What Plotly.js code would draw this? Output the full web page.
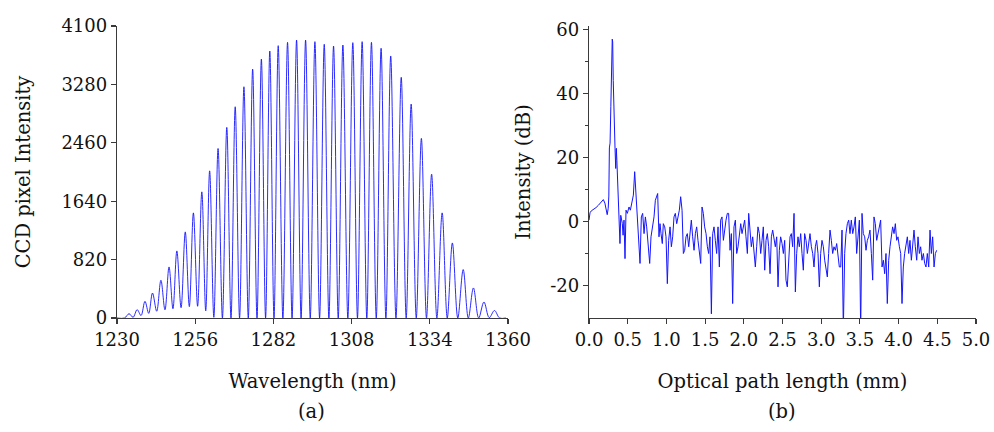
<!DOCTYPE html>
<html>
<head>
<meta charset="utf-8">
<script src="https://cdn.plot.ly/plotly-3.0.1.min.js"></script>
<style>html,body{margin:0;padding:0;background:#fff;}#chart{width:994px;height:432px;}</style>
</head>
<body>
<div id="chart"></div>
<script>
// Panel (a): fringe spectrum, peak/trough points
const wavelengthNm = [1230, 1232.5, 1234.0, 1235.35, 1236.7, 1238.0, 1239.3, 1240.55, 1241.8, 1243.2, 1244.6, 1245.95, 1247.3, 1248.6, 1249.9, 1251.3, 1252.7, 1254.05, 1255.4, 1256.8, 1258.2, 1259.5, 1260.8, 1262.2, 1263.6, 1265.05, 1266.5, 1267.9, 1269.3, 1270.75, 1272.2, 1273.65, 1275.1, 1276.55, 1278.0, 1279.4, 1280.8, 1282.2, 1283.6, 1285.15, 1286.7, 1288.2, 1289.7, 1291.2, 1292.7, 1294.25, 1295.8, 1297.35, 1298.9, 1300.45, 1302.0, 1303.55, 1305.1, 1306.75, 1308.4, 1309.95, 1311.5, 1313.05, 1314.6, 1316.2, 1317.8, 1319.4, 1321.0, 1322.75, 1324.5, 1326.15, 1327.8, 1329.5, 1331.2, 1332.9, 1334.6, 1336.35, 1338.1, 1339.8, 1341.5, 1343.3, 1345.1, 1346.8, 1348.5, 1350.25, 1352.0, 1353.75, 1355.5, 1357.2, 1359.3];
const ccdIntensity = [0, 0, 60, 10, 117, 35, 234, 65, 351, 95, 530, 115, 717, 130, 942, 145, 1209, 160, 1476, 165, 1771, 100, 2066, 10, 2380, 0, 2676, 0, 2966, 0, 3247, 0, 3495, 0, 3636, 0, 3749, 0, 3824, 0, 3870, 0, 3903, 0, 3903, 0, 3880, 0, 3843, 0, 3819, 0, 3833, 0, 3866, 0, 3880, 0, 3870, 0, 3787, 0, 3679, 0, 3379, 0, 3004, 0, 2522, 0, 2020, 0, 1476, 0, 1054, 0, 680, 0, 422, 0, 225, 5, 105, 0, 0];
const wavelengthTicks = [1230, 1256, 1282, 1308, 1334, 1360];
const ccdTicks = [0, 820, 1640, 2460, 3280, 4100];

// Panel (b): depth profile
const pathMm = [0.000, 0.013, 0.030, 0.060, 0.090, 0.120, 0.150, 0.185, 0.205, 0.222, 0.235, 0.248, 0.256, 0.263, 0.272, 0.282, 0.292, 0.300, 0.306, 0.313, 0.320, 0.328, 0.336, 0.345, 0.353, 0.360, 0.366, 0.379, 0.392, 0.400, 0.410, 0.420, 0.430, 0.440, 0.452, 0.465, 0.478, 0.495, 0.517, 0.534, 0.556, 0.573, 0.590, 0.607, 0.624, 0.642, 0.659, 0.676, 0.693, 0.711, 0.728, 0.745, 0.762, 0.784, 0.801, 0.818, 0.840, 0.857, 0.874, 0.887, 0.904, 0.917, 0.930, 0.947, 0.960, 0.978, 0.995,
1.012, 1.029, 1.047, 1.064, 1.081, 1.098, 1.115, 1.133, 1.150, 1.167, 1.184, 1.202, 1.219, 1.236, 1.253, 1.270, 1.288, 1.305, 1.322, 1.339, 1.357, 1.374, 1.391, 1.408, 1.425, 1.443, 1.460, 1.477, 1.494, 1.512, 1.529, 1.546, 1.563, 1.581, 1.598, 1.615, 1.632, 1.649, 1.667, 1.684, 1.701, 1.718, 1.736, 1.753, 1.770, 1.787, 1.804, 1.822, 1.839, 1.856, 1.873, 1.891, 1.908, 1.925, 1.942, 1.960, 1.977, 1.994,
2.011, 2.028, 2.046, 2.063, 2.080, 2.097, 2.115, 2.132, 2.149, 2.166, 2.183, 2.201, 2.218, 2.235, 2.252, 2.270, 2.287, 2.304, 2.321, 2.339, 2.356, 2.373, 2.390, 2.407, 2.425, 2.442, 2.459, 2.476, 2.494, 2.511, 2.528, 2.545, 2.562, 2.580, 2.597, 2.614, 2.631, 2.649, 2.666, 2.683, 2.700, 2.717, 2.735, 2.752, 2.769, 2.786, 2.804, 2.821, 2.838, 2.855, 2.873, 2.890, 2.907, 2.924, 2.941, 2.959, 2.976, 2.993,
3.010, 3.028, 3.045, 3.062, 3.079, 3.096, 3.114, 3.131, 3.148, 3.165, 3.183, 3.200, 3.217, 3.234, 3.252, 3.269, 3.286, 3.303, 3.320, 3.338, 3.355, 3.372, 3.389, 3.407, 3.424, 3.441, 3.458, 3.475, 3.493, 3.510, 3.527, 3.544, 3.562, 3.579, 3.596, 3.613, 3.630, 3.648, 3.665, 3.682, 3.699, 3.717, 3.734, 3.751, 3.768, 3.786, 3.803, 3.820, 3.837, 3.854, 3.872, 3.889, 3.906, 3.923, 3.941, 3.958, 3.975, 3.992,
4.010, 4.027, 4.044, 4.061, 4.078, 4.096, 4.113, 4.130, 4.147, 4.165, 4.182, 4.199, 4.216, 4.234, 4.251, 4.268, 4.285, 4.302, 4.320, 4.337, 4.354, 4.371, 4.389, 4.406, 4.423, 4.440, 4.458, 4.475, 4.492];
const intensityDb = [0.5, 2.8, 3.4, 3.8, 4.4, 5.1, 5.9, 6.9, 5.8, 3.8, 2.2, 4.2, 8.0, 23.0, 24.5, 36.0, 47.0, 56.9, 56.0, 44.0, 35.3, 25.0, 22.9, 16.6, 22.9, 19.0, 15.6, 9.3, 1.0, -6.8, 2.0, 1.0, -0.5, -4.2, 0.5, -11.5, 3.6, 2.6, 4.6, 3.6, 6.2, 8.3, 15.6, 7.8, 0.5, -4.7, -13.0, 1.5, 2.6, -3.7, 1.5, -1.6, -5.8, -13.0, -4.7, -1.6, 1.5, 6.7, 7.8, 8.8, -4.7, -0.6, -3.7, -6.8, -0.6, -1.6, -4.7,
-19.3, -5.8, -1.6, -7.8, -4.7, 1.5, 2.6, -0.6, 1.5, 3.6, 7.8, 3.6, -9.9, -8.9, -4.7, -3.7, -7.8, -2.6, 0.5, -4.7, -8.9, -3.7, -1.6, -5.8, -9.9, -13.0, 4.6, 2.6, -1.6, -3.7, -7.8, -9.9, -4.7, -28.7, -3.7, -1.6, -5.8, -9.9, -1.6, -14.1, 0.5, 1.5, -5.8, -1.6, 0.5, 2.6, 2.6, -8.9, -3.7, -25.5, -1.6, 0.5, -9.9, -7.8, -4.7, -0.6, -3.7, -1.6,
0.5, -4.7, -9.9, 2.6, -1.6, -7.8, -4.7, -9.9, -14.1, -7.8, -1.6, -3.7, -9.9, -5.8, -1.6, -15.1, -5.8, -3.7, -7.8, -16.2, -4.7, -2.6, -5.8, -7.8, -4.7, -20.3, -8.9, -4.7, -6.8, -9.9, -5.8, -18.2, -20.3, -9.9, -4.7, -3.7, -7.8, 2.6, -21.9, -9.9, -4.7, -7.8, -3.7, -9.9, -15.1, -3.7, -5.8, -9.9, -5.8, -3.7, -7.8, -9.9, -14.1, -7.8, -5.8, -9.9, -20.3, -9.9,
-5.8, -7.8, -12.0, -15.1, -17.2, -9.9, -2.6, -5.8, -9.9, -7.8, -8.9, -6.8, -9.9, -14.1, -14.1, -2.6, -34, -9.9, -3.7, -0.6, 0.5, -3.7, 0.5, -3.7, -1.6, 1.5, -9.9, -3.7, 0.5, -34, 2.6, -3.7, -4.7, -8.9, -5.8, -4.7, -2.6, -9.9, -18.2, 1.5, -0.6, -5.8, -3.7, -1.6, 0.5, -14.1, -12.0, -16.2, -9.9, -25.5, -12.0, -7.8, -3.7, -1.6, -3.7, -0.6, -5.8, -4.7,
-7.8, -9.9, -25.5, -14.1, -9.9, -7.8, -4.7, -9.9, -5.8, -12.0, -7.8, -2.6, -7.8, -12.0, -4.7, -9.9, -7.8, -12.0, -9.9, -13.0, -14.1, -9.9, -14.1, -2.6, -9.9, -4.7, -14.1, -9.9, -8.9];
const pathTicks = [0, 0.5, 1, 1.5, 2, 2.5, 3, 3.5, 4, 4.5, 5];
const pathTickText = ['0.0', '0.5', '1.0', '1.5', '2.0', '2.5', '3.0', '3.5', '4.0', '4.5', '5.0'];
const dbTicks = [-20, 0, 20, 40, 60];
const dbTickText = ['-20', '0', '20', '40', '60'];
const dbMinorTicks = [-10, 10, 30, 50];

const FONT = 'DejaVu Serif, Liberation Serif, serif';
const lineBlue = 'rgb(20,20,255)';
const axisCommon = {
  showline: true, linecolor: '#3a3a3a', linewidth: 1.2,
  ticks: 'outside', ticklen: 5, tickwidth: 1.1, tickcolor: '#3a3a3a',
  showgrid: false, zeroline: false, mirror: false,
  tickfont: {family: FONT, size: 18, color: '#111'},
  automargin: false
};
const titleFont = {family: FONT, size: 19.5, color: '#111'};

const traces = [
  {x: wavelengthNm, y: ccdIntensity, xaxis: 'x', yaxis: 'y', type: 'scatter', mode: 'lines',
   line: {color: lineBlue, width: 0.9, shape: 'spline', smoothing: 1}, hoverinfo: 'skip'},
  {x: pathMm, y: intensityDb, xaxis: 'x2', yaxis: 'y2', type: 'scatter', mode: 'lines',
   line: {color: lineBlue, width: 1}, hoverinfo: 'skip'}
];

const layout = {
  width: 994, height: 432,
  margin: {l: 117, r: 18, t: 26, b: 114},
  paper_bgcolor: '#fff', plot_bgcolor: '#fff',
  showlegend: false,
  font: {family: FONT, color: '#111'},
  xaxis: Object.assign({}, axisCommon, {
    domain: [0, 0.4552], anchor: 'y', range: [1230, 1360], tickvals: wavelengthTicks,
    title: {text: 'Wavelength (nm)', font: titleFont, standoff: 25}
  }),
  yaxis: Object.assign({}, axisCommon, {
    domain: [0, 1], anchor: 'x', range: [0, 4100], tickvals: ccdTicks,
    title: {text: 'CCD pixel Intensity', font: titleFont, standoff: 25}
  }),
  xaxis2: Object.assign({}, axisCommon, {
    domain: [0.5495, 1], anchor: 'y2', range: [0, 5], tickvals: pathTicks, ticktext: pathTickText,
    title: {text: 'Optical path length (mm)', font: titleFont, standoff: 25}
  }),
  yaxis2: Object.assign({}, axisCommon, {
    domain: [0, 1], anchor: 'x2', range: [-30, 61], tickvals: dbTicks, ticktext: dbTickText,
    minor: {tickvals: dbMinorTicks, ticks: 'outside', ticklen: 3, tickcolor: '#3a3a3a', showgrid: false},
    title: {text: 'Intensity (dB)', font: titleFont, standoff: 14}
  }),
  annotations: [
    {text: '(a)', xref: 'paper', yref: 'paper', x: 0.227, y: -0.3185, xanchor: 'center', yanchor: 'middle', showarrow: false, font: titleFont},
    {text: '(b)', xref: 'paper', yref: 'paper', x: 0.774, y: -0.3185, xanchor: 'center', yanchor: 'middle', showarrow: false, font: titleFont}
  ]
};

Plotly.newPlot('chart', traces, layout, {staticPlot: true, displayModeBar: false});
</script>
</body>
</html>
